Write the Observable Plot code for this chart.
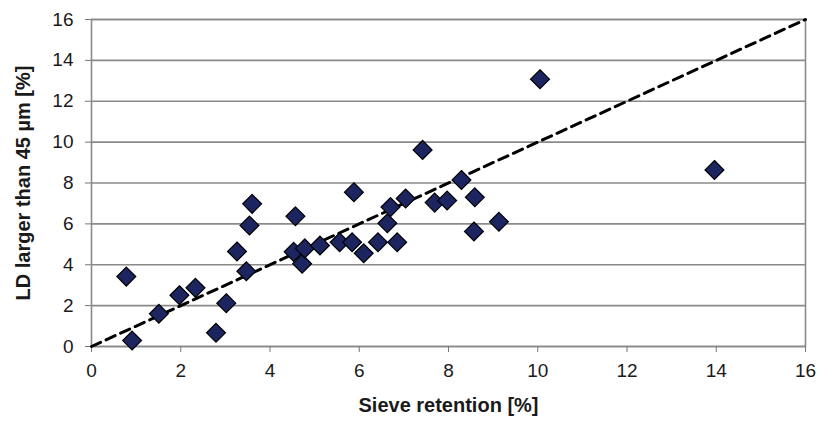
<!DOCTYPE html>
<html><head><meta charset="utf-8">
<script src="https://cdn.jsdelivr.net/npm/d3@7"></script>
<script src="https://cdn.jsdelivr.net/npm/@observablehq/plot@0.6"></script>
<style>body{margin:0;background:#fff}</style>
</head><body><div id="chart"></div>
<script>
const sieveRetention = [0.78,0.91,1.51,1.97,2.33,2.79,3.02,3.26,3.47,3.54,3.60,4.53,4.57,4.72,4.78,5.12,5.56,5.84,5.88,6.10,6.42,6.63,6.70,6.85,7.04,7.42,7.69,7.97,8.29,8.59,8.57,9.13,10.05,13.96];
const ldLarger45   = [3.42,0.29,1.60,2.51,2.87,0.67,2.12,4.65,3.68,5.92,6.98,4.63,6.37,4.05,4.80,4.94,5.10,5.10,7.55,4.56,5.10,6.03,6.82,5.10,7.24,9.62,7.04,7.14,8.15,7.30,5.63,6.10,13.08,8.64];
const xTicks = [0,2,4,6,8,10,12,14,16];
const yTicks = [0,2,4,6,8,10,12,14,16];
const identityLine = [0,16];
const xTitle = "Sieve retention [%]";
const yTitle = "LD larger than 45 µm [%]";

const points = sieveRetention.map((x,i)=>({x, y: ldLarger45[i]}));
const lineData = identityLine.map(v=>({x:v, y:v}));

const chart = Plot.plot({
  width:819, height:425,
  marginLeft:91, marginRight:14, marginTop:19, marginBottom:79,
  style:{fontFamily:"'Liberation Sans', Arial, sans-serif", fontSize:"19px", color:"#1a1a1a", background:"#fff"},
  x:{domain:[0,16]},
  y:{domain:[0,16]},
  marks:[
    Plot.gridY(yTicks,{stroke:"#8a8a8a", strokeOpacity:1, strokeWidth:1.6}),
    Plot.frame({stroke:"#8a8a8a", strokeWidth:1.6}),
    Plot.axisX(xTicks,{tickSize:6, tickPadding:11, label:null, stroke:"#777", fontSize:19}),
    Plot.axisY(yTicks,{tickSize:6, tickPadding:12, label:null, stroke:"#777", fontSize:19}),
    Plot.line(lineData,{x:"x", y:"y", stroke:"#000", strokeWidth:3, strokeDasharray:"10,6"}),
    Plot.dot(points,{x:"x", y:"y", symbol:"diamond2", r:8.5, fill:"#1c2560", stroke:"#000", strokeWidth:1.2}),
    Plot.text([xTitle],{frameAnchor:"bottom", dy:65, fontWeight:"bold", fontSize:20, fill:"#1a1a1a"}),
    Plot.text([yTitle],{frameAnchor:"left", textAnchor:"middle", dx:-68, rotate:-90, fontWeight:"bold", fontSize:20, fill:"#1a1a1a"})
  ]
});
document.getElementById("chart").appendChild(chart);
</script>
</body></html>
